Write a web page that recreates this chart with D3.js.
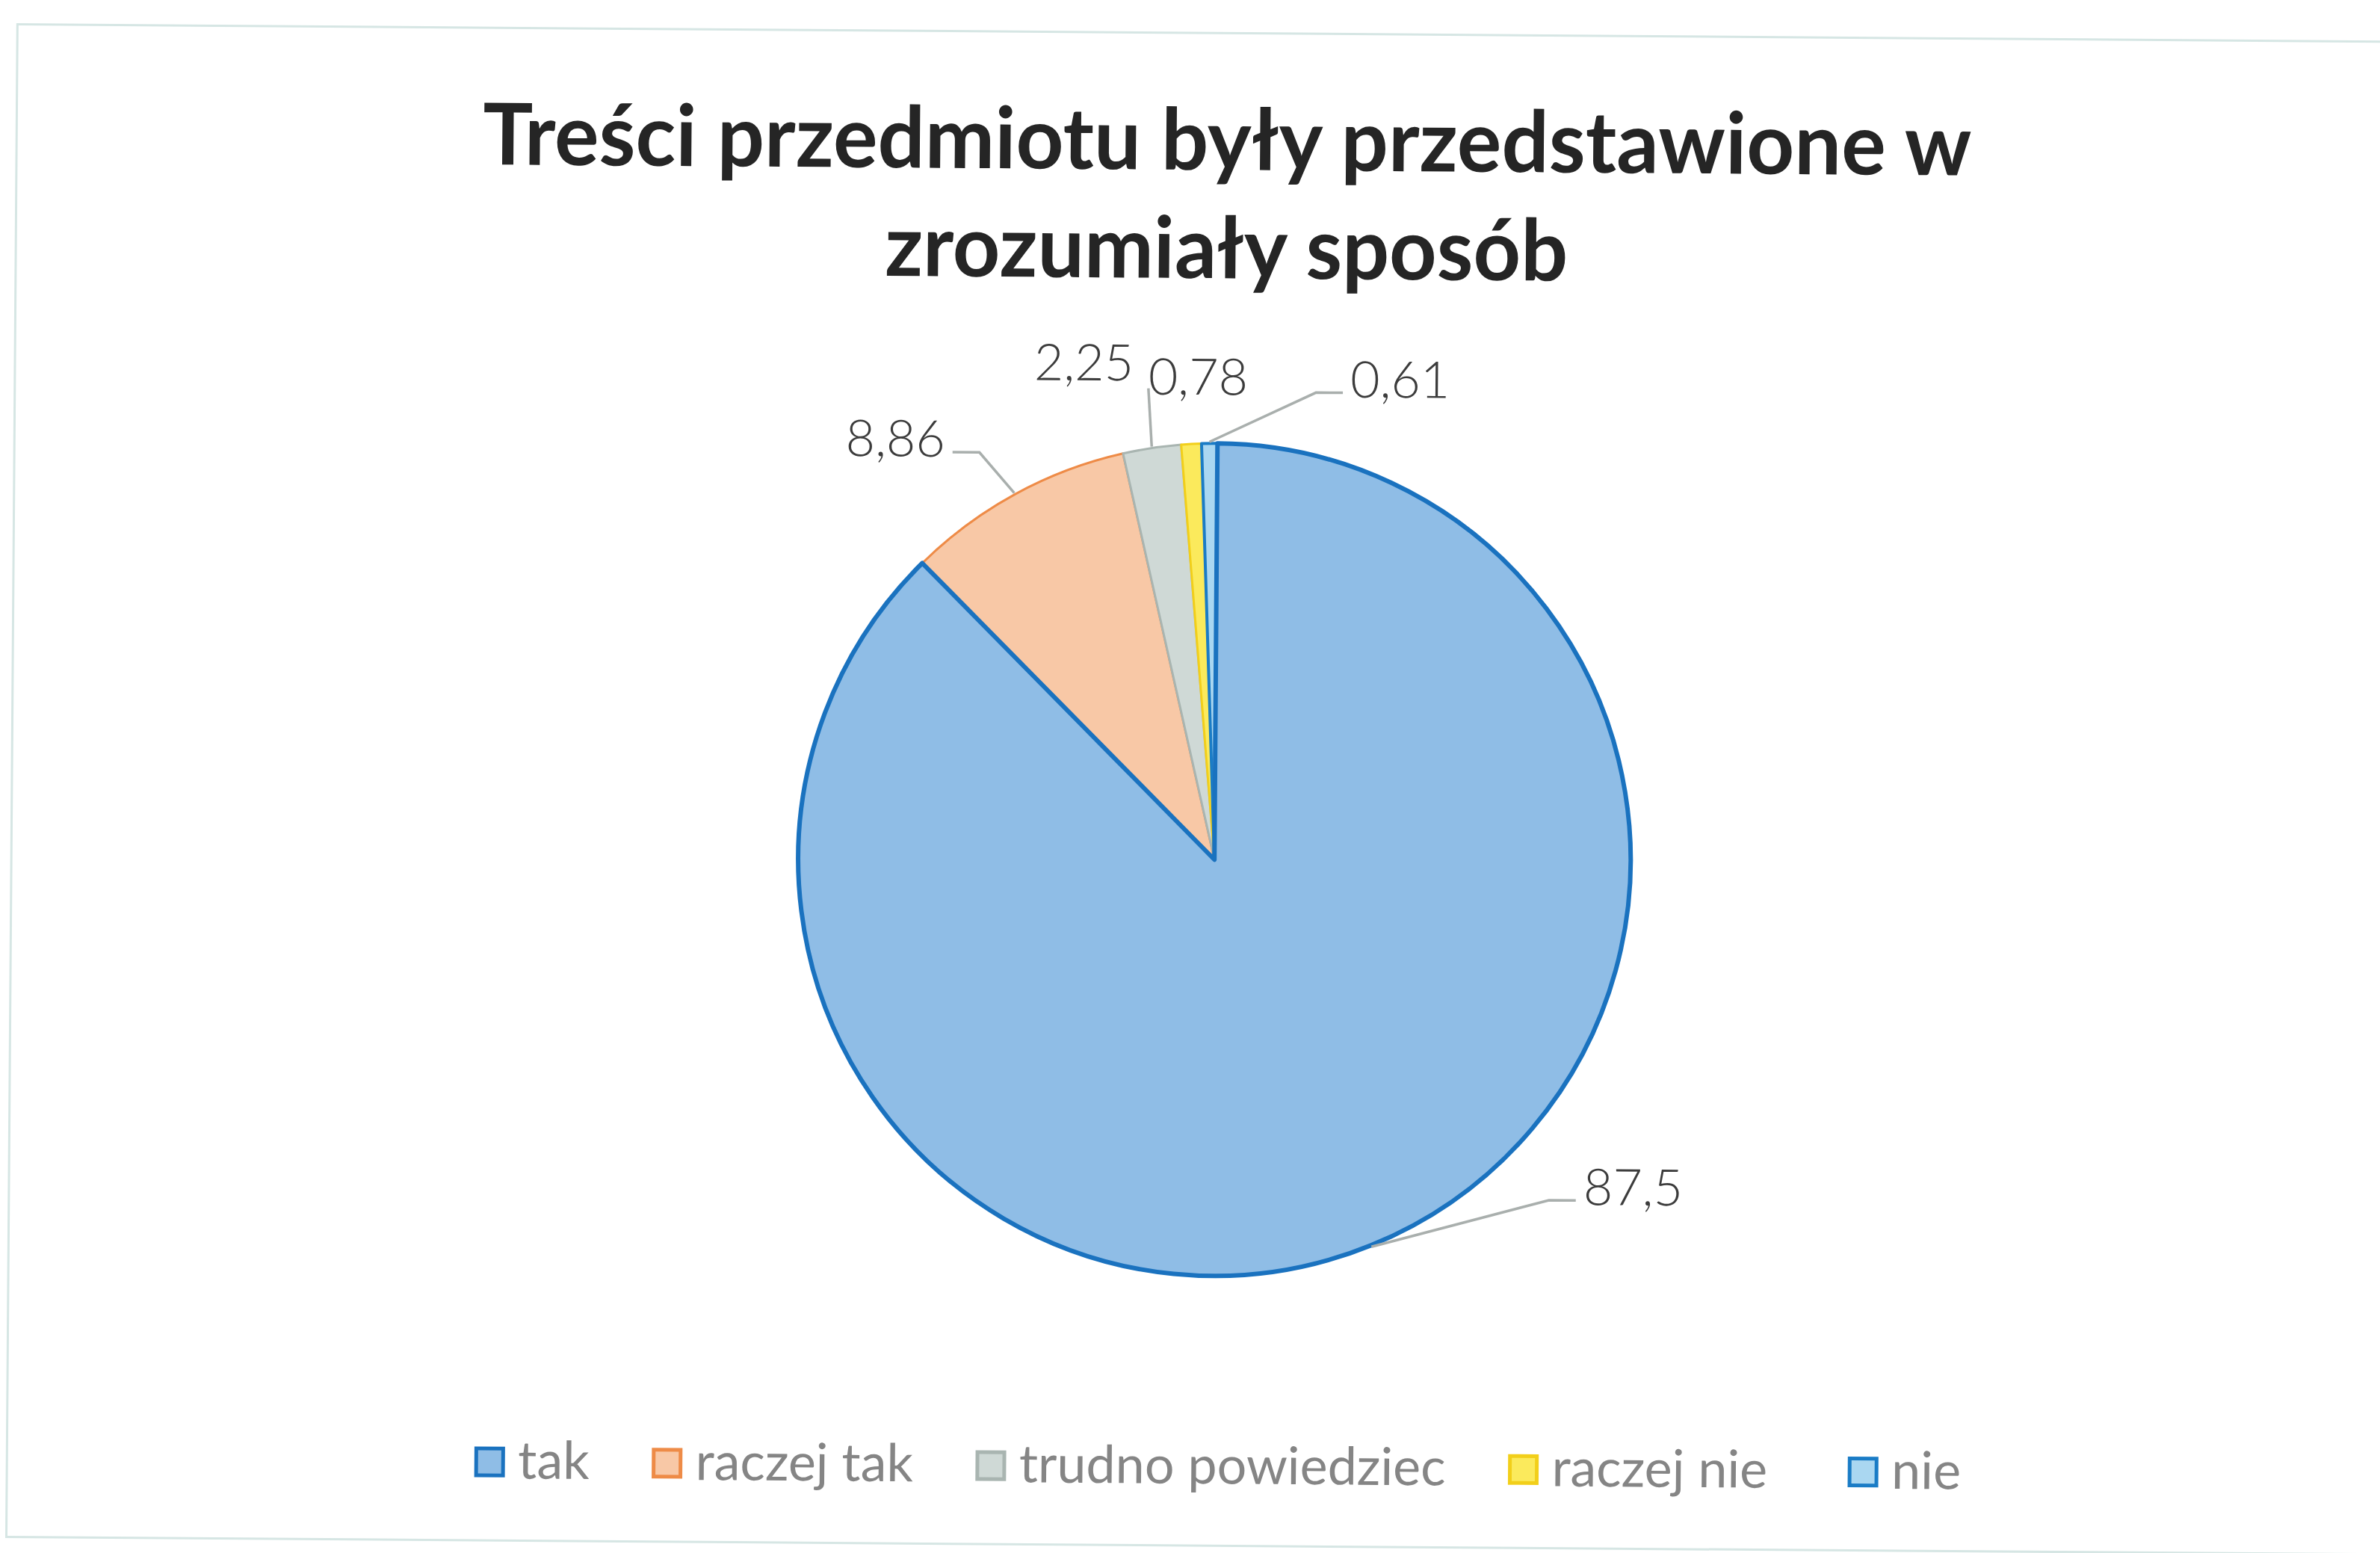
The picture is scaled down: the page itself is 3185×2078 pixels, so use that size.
<!DOCTYPE html>
<html>
<head>
<meta charset="utf-8">
<script src="https://cdn.jsdelivr.net/npm/d3@7"></script>
<style>
  html, body { margin: 0; padding: 0; background: #ffffff; }
  svg { display: block; }
</style>
</head>
<body>
<script>
// ---- data ----
const categories = ["tak", "raczej tak", "trudno powiedziec", "raczej nie", "nie"];
const values = [87.5, 8.86, 2.25, 0.78, 0.61];
const valueLabels = ["87,5", "8,86", "2,25", "0,78", "0,61"];
const titleLines = ["Treści przedmiotu były przedstawione w", "zrozumiały sposób"];

// ---- style / layout ----
const W = 3185, H = 2078;
const fills   = ["#8FBDE6", "#F8C8A6", "#CFD9D6", "#FBEA5C", "#AAD7F1"];
const strokes = ["#1A72BF", "#EE8B47", "#A9B5B1", "#F2CF1A", "#1A7CC6"];
const strokeW = [6, 3, 3, 3, 4];
const cx = 1626, cy = 1150, R = 557;
const titleWidths = [1992, 914];
const labelLayout = [
  {dx: 283, dy: -58, anchor: "start", leader: "stub"},
  {dx: -93, dy: -48, anchor: "end",   leader: "stub"},
  {dx: -25, dy: -88, anchor: "end",   leader: "drop"},
  {dx: -58, dy: -64, anchor: "start", leader: "none"},
  {dx: 188, dy: -61, anchor: "start", leader: "stub"}
];

const svg = d3.select("body").append("svg")
  .attr("width", W).attr("height", H)
  .attr("viewBox", `0 0 ${W} ${H}`);

svg.append("rect").attr("width", W).attr("height", H).attr("fill", "#ffffff");

const root = svg.append("g").attr("transform", `rotate(0.42, ${W/2}, ${H/2})`);

// frame
root.append("rect")
  .attr("x", 16).attr("y", 44).attr("width", W + 40).attr("height", 2024)
  .attr("fill", "none").attr("stroke", "#d6e6e4").attr("stroke-width", 3);

// title
root.selectAll("text.title").data(titleLines).enter().append("text")
  .attr("class", "title")
  .attr("x", 1636)
  .attr("y", (d, i) => 227 + i * 145)
  .attr("text-anchor", "middle")
  .attr("font-family", "Lato, 'Open Sans', sans-serif")
  .attr("font-weight", 700)
  .attr("font-size", 114)
  .attr("textLength", (d, i) => titleWidths[i])
  .attr("lengthAdjust", "spacingAndGlyphs")
  .attr("fill", "#252525")
  .text(d => d);

// pie
const pie = d3.pie().sort(null).value(d => d).startAngle(0).endAngle(2 * Math.PI);
const arcs = pie(values);
const arc = d3.arc().innerRadius(0).outerRadius(R);
const edgeArc = d3.arc().innerRadius(R + 2).outerRadius(R + 2);

const pg = root.append("g").attr("transform", `translate(${cx},${cy})`);
// draw small slices first, big slice last so its dark border sits on top
const order = [1, 2, 3, 4, 0];
pg.selectAll("path.slice").data(order.map(i => ({a: arcs[i], i}))).enter().append("path")
  .attr("class", "slice")
  .attr("d", d => arc(d.a))
  .attr("fill", d => fills[d.i])
  .attr("stroke", d => strokes[d.i])
  .attr("stroke-width", d => strokeW[d.i])
  .attr("stroke-linejoin", "round");

// labels + leader lines
const lg = root.append("g").attr("transform", `translate(${cx},${cy})`);
arcs.forEach((a, i) => {
  const [ex, ey] = edgeArc.centroid(a);
  const L = labelLayout[i];
  const tx = ex + L.dx, ty = ey + L.dy;
  if (L.leader === "stub") {
    const dir = L.anchor === "start" ? -1 : 1;
    const ax = tx + dir * 10, ay = ty - 6;
    const bx = ax + dir * 36;
    lg.append("path")
      .attr("d", d3.line()([[ax, ay], [bx, ay], [ex, ey]]))
      .attr("fill", "none").attr("stroke", "#A9AFAD").attr("stroke-width", 3.5);
  } else if (L.leader === "drop") {
    lg.append("path")
      .attr("d", d3.line()([[tx + 20, ty + 10], [ex, ey]]))
      .attr("fill", "none").attr("stroke", "#A9AFAD").attr("stroke-width", 3.5);
  }
  lg.append("text")
    .attr("x", tx).attr("y", ty)
    .attr("text-anchor", L.anchor)
    .attr("font-family", "Lato, 'Open Sans', sans-serif")
    .attr("font-weight", 300)
    .attr("font-size", 68)
    .attr("fill", "#3c3c3c")
    .text(valueLabels[i]);
});

// legend
const leg = root.append("g");
let lx = 642;
const ly = 1985;
categories.forEach((c, i) => {
  leg.append("rect")
    .attr("x", lx + 2).attr("y", ly - 40).attr("width", 36).attr("height", 36)
    .attr("fill", fills[i]).attr("stroke", strokes[i]).attr("stroke-width", 5);
  const t = leg.append("text")
    .attr("x", lx + 58).attr("y", ly)
    .attr("font-family", "Lato, 'Open Sans', sans-serif")
    .attr("font-weight", 400)
    .attr("font-size", 70)
    .attr("fill", "#858585")
    .text(c);
  const w = t.node().getComputedTextLength();
  lx = lx + 58 + w + (i === 3 ? 108 : 84);
});
</script>
</body>
</html>
